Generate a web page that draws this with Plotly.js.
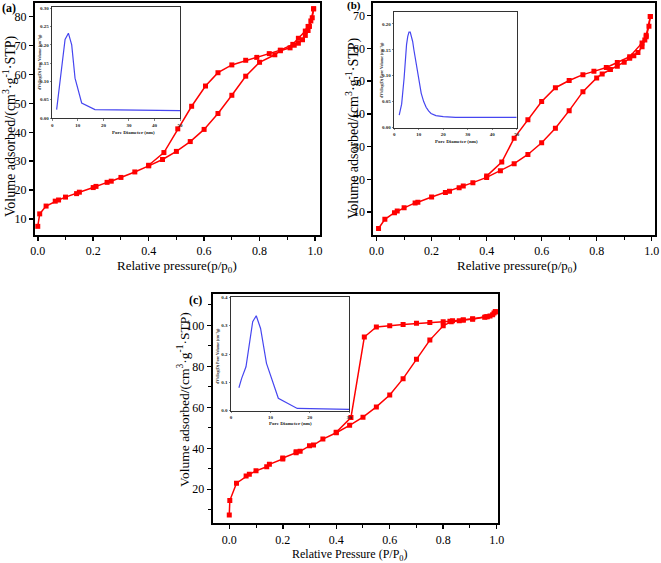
<!DOCTYPE html>
<html><head><meta charset="utf-8">
<script src="https://cdn.plot.ly/plotly-3.0.1.min.js"></script>
<style>html,body{margin:0;padding:0;background:#fff}#chart{width:661px;height:563px}</style>
</head><body><div id="chart"></div>
<script>
// ---- Panel (a) ----
const aAdsX = [0.0,0.007,0.03,0.063,0.075,0.1,0.14,0.15,0.2,0.21,0.25,0.265,0.3,0.35,0.4,0.45,0.5,0.55,0.6,0.65,0.7,0.75,0.8,0.855,0.875,0.91,0.925,0.94,0.955,0.965,0.975,0.98,0.99,0.995];
const aAdsY = [7.5,11.8,14.5,16.2,16.6,17.6,18.8,19.3,20.9,21.3,22.7,23.1,24.4,26.3,28.4,30.6,33.4,36.8,41.0,46.5,52.8,59.4,64.2,66.8,68.2,69.2,70.1,70.8,72.0,73.5,75.2,76.6,79.6,82.7];
const aDesX = [0.995,0.985,0.975,0.965,0.94,0.92,0.875,0.835,0.79,0.75,0.7,0.65,0.605,0.555,0.505,0.455,0.4];
const aDesY = [82.7,78.5,76.6,75.0,72.5,70.4,68.4,67.2,65.9,64.9,63.3,60.6,56.0,49.0,41.2,33.0,28.6];
const aPoreX = [1.7,3.5,5.0,6.3,7.6,8.9,11.5,16.7,25,35,50];
const aPoreY = [0.023,0.12,0.215,0.232,0.20,0.109,0.041,0.023,0.022,0.021,0.020];
// ---- Panel (b) ----
const bAdsX = [0.007,0.03,0.065,0.075,0.1,0.14,0.15,0.2,0.25,0.265,0.3,0.315,0.35,0.4,0.45,0.5,0.55,0.6,0.65,0.7,0.75,0.8,0.82,0.85,0.875,0.9,0.92,0.935,0.95,0.965,0.975,0.98,0.99,0.995];
const bAdsY = [5.0,7.8,9.8,10.3,11.3,12.8,13.0,14.6,16.0,16.4,17.4,18.0,19.0,20.6,22.6,24.8,27.6,31.2,35.6,41.0,46.8,51.0,52.2,53.6,54.6,55.8,57.0,57.8,58.8,60.5,62.6,63.6,66.8,69.8];
const bDesX = [0.995,0.98,0.965,0.92,0.875,0.835,0.79,0.75,0.7,0.65,0.6,0.55,0.5,0.455,0.4];
const bDesY = [69.8,64.0,61.7,57.5,55.7,54.2,53.0,52.0,50.2,48.0,43.8,38.2,32.6,25.3,21.0];
const bPoreX = [2,3,4,4.5,5,5.5,6,6.5,7,7.5,8,9,10,11,12,13,14,15,17,20,25,30,40,50];
const bPoreY = [0.024,0.045,0.095,0.13,0.16,0.176,0.184,0.184,0.177,0.166,0.15,0.12,0.09,0.066,0.05,0.039,0.032,0.027,0.023,0.021,0.0197,0.0195,0.0195,0.0195];
// ---- Panel (c) ----
const cAdsX = [0.0,0.002,0.027,0.063,0.075,0.1,0.14,0.15,0.2,0.2,0.25,0.25,0.265,0.3,0.315,0.35,0.4,0.45,0.5,0.55,0.6,0.65,0.7,0.75,0.8,0.83,0.86,0.875,0.91,0.955,0.965,0.975,0.985,0.99,0.995];
const cAdsY = [7.5,14.5,23.0,26.5,27.3,29.0,31.0,32.2,34.8,35.3,37.8,38.3,38.5,41.2,41.6,44.5,47.6,51.2,55.2,60.2,66.0,74.0,83.5,92.8,99.8,101.8,102.2,102.6,103.0,104.0,104.2,104.6,105.2,106.0,106.6];
const cDesX = [0.995,0.96,0.91,0.875,0.835,0.825,0.8,0.75,0.7,0.65,0.6,0.55,0.505,0.455,0.4];
const cDesY = [106.6,104.2,103.2,102.6,102.2,102.0,101.8,101.4,101.0,100.4,99.8,99.2,94.3,55.0,47.8];
const cPoreX = [2.0,2.7,3.8,4.7,5.5,6.4,7.5,9.0,12.0,16.8,30];
const cPoreY = [0.081,0.114,0.155,0.232,0.314,0.335,0.29,0.167,0.044,0.008,0.005];

const W = 661, H = 563;
const dx = (a,b) => [a/W, b/W];
const dy = (top,bot) => [1-bot/H, 1-top/H];
const serif = '"Liberation Serif", "Times New Roman", serif';
const red = '#ff0000', blue = '#4646f0';

function iso(x, y, xa, ya) {
  return {x, y, xaxis: xa, yaxis: ya, mode: 'lines+markers', type: 'scatter',
    line: {color: red, width: 1.5}, marker: {symbol: 'square', size: 5, color: red}, hoverinfo: 'skip'};
}
function pore(x, y, xa, ya) {
  return {x, y, xaxis: xa, yaxis: ya, mode: 'lines', type: 'scatter',
    line: {color: blue, width: 1.2}, hoverinfo: 'skip'};
}
const traces = [
  iso(aAdsX, aAdsY, 'x', 'y'), iso(aDesX, aDesY, 'x', 'y'),
  iso(bAdsX, bAdsY, 'x2', 'y2'), iso(bDesX, bDesY, 'x2', 'y2'),
  iso(cAdsX, cAdsY, 'x3', 'y3'), iso(cDesX, cDesY, 'x3', 'y3'),
  pore(aPoreX, aPoreY, 'x4', 'y4'),
  pore(bPoreX, bPoreY, 'x5', 'y5'),
  pore(cPoreX, cPoreY, 'x6', 'y6')
];

function mainX(domain, range, anchor) {
  return {domain, range, anchor, showgrid: false, zeroline: false, showline: true, mirror: true,
    linecolor: '#000', linewidth: 2, ticks: 'outside', ticklen: 4, tickwidth: 1.5, tickcolor: '#000',
    tickmode: 'linear', tick0: 0, dtick: 0.2, tickformat: '.1f',
    minor: {dtick: 0.1, ticks: 'outside', ticklen: 2.5, tickwidth: 1, tickcolor: '#000'},
    tickfont: {family: serif, size: 12, color: '#000'}};
}
function mainY(domain, range, anchor, dtick, minor) {
  const o = {domain, range, anchor, showgrid: false, zeroline: false, showline: true, mirror: true,
    linecolor: '#000', linewidth: 2, ticks: 'outside', ticklen: 4, tickwidth: 1.5, tickcolor: '#000',
    tickmode: 'linear', tick0: 0, dtick,
    tickfont: {family: serif, size: 12, color: '#000'}};
  if (minor) o.minor = {dtick: minor, ticks: 'outside', ticklen: 2.5, tickwidth: 1, tickcolor: '#000'};
  return o;
}
function insX(domain, range, anchor) {
  return {domain, range, anchor, showgrid: false, zeroline: false, showline: true, mirror: true,
    linecolor: '#333', linewidth: 1, ticks: 'outside', ticklen: 1.5, tickwidth: 0.6, tickcolor: '#333',
    tickmode: 'linear', tick0: 0, dtick: 10,
    tickfont: {family: serif, size: 5, color: '#222', weight: 'bold'}};
}
function insY(domain, range, anchor, dtick, fmt) {
  return {domain, range, anchor, showgrid: false, zeroline: false, showline: true, mirror: true,
    linecolor: '#333', linewidth: 1, ticks: 'outside', ticklen: 1.5, tickwidth: 0.6, tickcolor: '#333',
    tickmode: 'linear', tick0: 0, dtick, tickformat: fmt,
    tickfont: {family: serif, size: 5, color: '#222', weight: 'bold'}};
}

const layout = {
  width: W, height: H, margin: {l: 0, r: 0, t: 0, b: 0},
  paper_bgcolor: '#fff', plot_bgcolor: '#fff', showlegend: false,
  font: {family: serif},
  xaxis: mainX(dx(35, 320), [-0.01, 1.018], 'y'),
  yaxis: mainY(dy(3, 235), [4.5, 84.7], 'x', 10),
  xaxis2: mainX(dx(373.3, 655), [-0.012, 1.012], 'y2'),
  yaxis2: mainY(dy(3.3, 235), [3.0, 73.8], 'x2', 10),
  xaxis3: mainX(dx(212.7, 498.3), [-0.062, 1.006], 'y3'),
  yaxis3: mainY(dy(294, 523.3), [3.4, 115.3], 'x3', 20, 10),
  xaxis4: insX(dx(52.3, 180), [0, 50], 'y4'),
  yaxis4: insY(dy(6.7, 118), [0, 0.3044], 'x4', 0.05, '.2f'),
  xaxis5: insX(dx(394.3, 516.7), [0, 50], 'y5'),
  yaxis5: insY(dy(11.7, 127.5), [0, 0.2235], 'x5', 0.05, '.2f'),
  xaxis6: insX(dx(231, 349.3), [0, 30], 'y6'),
  yaxis6: insY(dy(297.3, 410.7), [0, 0.4], 'x6', 0.1, '.1f'),
  annotations: []
};

function ann(text, px, py, size, opts) {
  return Object.assign({text, x: px/W, y: 1-py/H, xref: 'paper', yref: 'paper', showarrow: false,
    xanchor: 'center', yanchor: 'middle', font: {family: serif, size, color: '#000'}}, opts || {});
}
const yTitle = 'Volume adsorbed/(cm<sup>3</sup>·g<sup>-1</sup>·STP)';
const poreTitle = 'Pore Diameter (nm)';
const poreY = 'dV/dlog(D) Pore Volume (cm<sup>3</sup>/g)';
const small = (s) => ({font: {family: serif, size: s, color: '#222'}});
layout.annotations.push(
  ann('Relative pressure(p/p<sub>0</sub>)', 177, 266, 13),
  ann('Relative pressure(p/p<sub>0</sub>)', 517, 266, 13),
  ann('Relative Pressure (P/P<sub>0</sub>)', 350, 555, 12),
  ann(yTitle, 10, 126, 14, {textangle: -90}),
  ann(yTitle, 352, 128, 14, {textangle: -90}),
  ann(yTitle, 183, 400, 13.5, {textangle: -90}),
  ann('<b>(a)</b>', 9, 8, 12),
  ann('<b>(b)</b>', 354, 5, 11),
  ann('<b>(c)</b>', 195, 300, 12),
  ann('<b>' + poreTitle + '</b>', 133, 132, 5, small(5)),
  ann('<b>' + poreTitle + '</b>', 456, 141, 5, small(5)),
  ann('<b>' + poreTitle + '</b>', 290, 423, 5, small(5)),
  ann('<b>' + poreY + '</b>', 39, 62, 4, Object.assign({textangle: -90}, small(4))),
  ann('<b>' + poreY + '</b>', 382, 70, 4, Object.assign({textangle: -90}, small(4))),
  ann('<b>' + poreY + '</b>', 217, 356, 4, Object.assign({textangle: -90}, small(4)))
);

Plotly.newPlot('chart', traces, layout, {displayModeBar: false, staticPlot: true});
</script>
</body></html>
